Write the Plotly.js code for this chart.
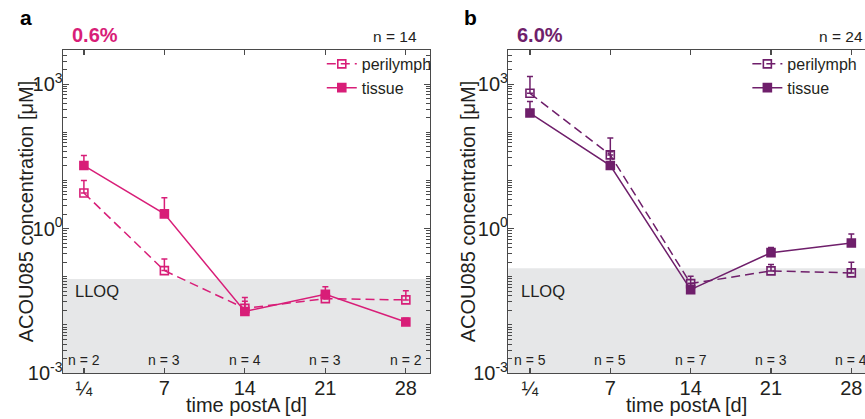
<!DOCTYPE html>
<html>
<head>
<meta charset="utf-8">
<script src="https://cdn.plot.ly/plotly-3.0.1.min.js"></script>
<style>html,body{margin:0;padding:0;background:#fff;}#chart{width:865px;height:419px;}</style>
</head>
<body>
<div id="chart"></div>
<script>
// ---- data ----
const categories = ['¼', '7', '14', '21', '28'];

// Panel a: 0.6 %
const a_perilymph = [5.5, 0.134, 0.022, 0.035, 0.033];
const a_perilymph_err = [4.5, 0.10, 0.015, 0.016, 0.018];
const a_tissue = [20.4, 2.02, 0.019, 0.043, 0.0115];
const a_tissue_err = [12.7, 2.35, 0.012, 0.019, 0.0023];
const a_n = ['n = 2', 'n = 3', 'n = 4', 'n = 3', 'n = 2'];
const a_total = 'n = 14';
const a_lloq = 0.09;

// Panel b: 6.0 %
const b_perilymph = [646, 33.9, 0.072, 0.132, 0.12];
const b_perilymph_err = [800, 42, 0.030, 0.048, 0.08];
const b_tissue = [251, 20.4, 0.054, 0.316, 0.50];
const b_tissue_err = [186, 19, 0.018, 0.09, 0.27];
const b_n = ['n = 5', 'n = 5', 'n = 7', 'n = 3', 'n = 4'];
const b_total = 'n = 24';
const b_lloq = 0.15;

// y tick labels (labelled decades only)
const yTickVals = [0.001, 1, 1000];
const yTickText = ['10<sup>-3</sup>', '10<sup>0</sup>', '10<sup>3</sup>'];

// ---- styles ----
const colA = '#d81e78';
const colB = '#6f1f6b';
const axisCol = '#4a4a4a';
const txtCol = '#231f20';
const FONT = 'Liberation Sans, Arial, sans-serif';
const Y_RANGE = [-3, 3.71];
const Y_DOMAIN = [0.1098, 0.8807];

function trace(y, err, name, color, open, xa, ya, legend) {
  return {
    x: categories, y: y, name: name, type: 'scatter', mode: 'lines+markers',
    xaxis: xa, yaxis: ya, legend: legend,
    line: {color: color, width: 1.5, dash: open ? '9px,5px' : 'solid'},
    marker: {symbol: open ? 'square-open' : 'square', size: 8, color: color,
             line: {color: color, width: 1.6}},
    error_y: {type: 'data', symmetric: false, array: err, arrayminus: err.map(() => 0),
              color: color, thickness: 1.5, width: 3}
  };
}
// empty helper traces so that the overlay axes (minor ticks / titles) are drawn
function helper(xa, ya) {
  return {x: [], y: [], type: 'scatter', mode: 'markers', xaxis: xa, yaxis: ya,
          showlegend: false, hoverinfo: 'skip'};
}

const data = [
  trace(a_perilymph, a_perilymph_err, 'perilymph', colA, true, 'x', 'y', 'legend'),
  trace(a_tissue, a_tissue_err, 'tissue', colA, false, 'x', 'y', 'legend'),
  trace(b_perilymph, b_perilymph_err, 'perilymph', colB, true, 'x2', 'y2', 'legend2'),
  trace(b_tissue, b_tissue_err, 'tissue', colB, false, 'x2', 'y2', 'legend2'),
  helper('x', 'y3'), helper('x2', 'y4'), helper('x3', 'y'), helper('x4', 'y2')
];

function xaxis(domain, range, anchor) {
  return {
    domain: domain, anchor: anchor, type: 'category', categoryarray: categories, range: range,
    showline: true, linecolor: axisCol, linewidth: 1.4, mirror: 'ticks',
    ticks: 'inside', ticklen: 5, tickcolor: axisCol, tickwidth: 1.2,
    showgrid: false, zeroline: false,
    tickfont: {family: FONT, size: 20, color: txtCol},
    ticklabelstandoff: -3
  };
}
// overlay axis carrying the x title (no tick labels) for tight placement
function xTitleAxis(over, domain, range, anchor) {
  return {
    overlaying: over, domain: domain, anchor: anchor, type: 'linear', range: range,
    showline: false, ticks: '', showticklabels: false, showgrid: false, zeroline: false,
    title: {text: 'time postA [d]', font: {family: FONT, size: 20, color: txtCol}, standoff: 25}
  };
}
function yaxis(anchor, mirror) {
  return {
    domain: Y_DOMAIN, anchor: anchor, type: 'log', range: Y_RANGE,
    showline: true, linecolor: axisCol, linewidth: 1.4, mirror: mirror,
    ticks: 'inside', ticklen: 6, tickcolor: axisCol, tickwidth: 1.2,
    tickmode: 'array', tickvals: yTickVals, ticktext: yTickText,
    showgrid: false, zeroline: false,
    tickfont: {family: FONT, size: 20, color: txtCol},
    ticklabelstandoff: -5
  };
}
// overlay log axis: minor ticks (1..9 per decade) + the y title
function yMinorAxis(over, anchor, mirror, standoff) {
  return {
    overlaying: over, anchor: anchor, type: 'log', range: Y_RANGE, side: 'left',
    showline: false, mirror: mirror,
    ticks: 'inside', ticklen: 4, tickcolor: axisCol, tickwidth: 1,
    tickmode: 'linear', tick0: 0, dtick: 'D1',
    showticklabels: false, showgrid: false, zeroline: false,
    title: {text: 'ACOU085 concentration [μM]', font: {family: FONT, size: 20, color: txtCol}, standoff: standoff}
  };
}

const annotations = [];
function addPanel(xa, ya, nLabels) {
  nLabels.forEach((t, i) => annotations.push({
    x: i, y: 0.04, xref: xa, yref: ya + ' domain', text: t, showarrow: false,
    xanchor: 'center', yanchor: 'middle', font: {family: FONT, size: 14, color: txtCol}
  }));
  annotations.push({x: -0.14, y: 0.255, xref: xa, yref: ya + ' domain', text: 'LLOQ', showarrow: false,
    xanchor: 'left', yanchor: 'middle', font: {family: FONT, size: 16.5, color: txtCol}});
}
addPanel('x', 'y', a_n);
addPanel('x2', 'y2', b_n);

const paperText = (x, y, text, size, color, bold, anchor) => ({
  x: x, y: y, xref: 'paper', yref: 'paper', text: bold ? '<b>' + text + '</b>' : text,
  showarrow: false, xanchor: anchor, yanchor: 'middle',
  font: {family: FONT, size: size, color: color}
});
annotations.push(paperText(0.0208, 0.959, 'a', 21, '#000', true, 'left'));
annotations.push(paperText(0.0809, 0.916, '0.6%', 20, colA, true, 'left'));
annotations.push(paperText(0.4844, 0.912, a_total, 15.5, txtCol, false, 'right'));
annotations.push(paperText(0.534, 0.959, 'b', 21, '#000', true, 'left'));
annotations.push(paperText(0.5954, 0.916, '6.0%', 20, colB, true, 'left'));
annotations.push(paperText(1.0, 0.912, b_total, 15.5, txtCol, false, 'right'));

const shapes = [
  {type: 'rect', xref: 'x domain', yref: 'y', x0: 0, x1: 1, y0: 0.001, y1: a_lloq,
   fillcolor: '#e6e7e8', line: {width: 0}, layer: 'below'},
  {type: 'rect', xref: 'x2 domain', yref: 'y2', x0: 0, x1: 1, y0: 0.001, y1: b_lloq,
   fillcolor: '#e6e7e8', line: {width: 0}, layer: 'below'}
];

const legendStyle = (x) => ({
  x: x, y: 0.888, xref: 'paper', yref: 'paper', xanchor: 'left', yanchor: 'top',
  bgcolor: 'rgba(0,0,0,0)', borderwidth: 0, itemwidth: 30, tracegroupgap: 0,
  font: {family: FONT, size: 16, color: txtCol}
});

const XA_DOM = [0.0728, 0.4971], XB_DOM = [0.5876, 1.0];
const XA_RANGE = [-0.26, 4.30], XB_RANGE = [-0.27, 4.17];

const layout = {
  width: 865, height: 419,
  margin: {l: 0, r: 0, t: 0, b: 0},
  paper_bgcolor: '#fff', plot_bgcolor: 'rgba(0,0,0,0)',
  showlegend: true,
  xaxis: xaxis(XA_DOM, XA_RANGE, 'y'),
  yaxis: yaxis('x', 'ticks'),
  xaxis2: xaxis(XB_DOM, XB_RANGE, 'y2'),
  yaxis2: yaxis('x2', false),
  yaxis3: yMinorAxis('y', 'x', 'ticks', 22),
  yaxis4: yMinorAxis('y2', 'x2', false, 26),
  xaxis3: xTitleAxis('x', XA_DOM, XA_RANGE, 'y'),
  xaxis4: xTitleAxis('x2', XB_DOM, XB_RANGE, 'y2'),
  legend: legendStyle(0.372),
  legend2: legendStyle(0.864),
  annotations: annotations,
  shapes: shapes,
  font: {family: FONT, color: txtCol}
};

Plotly.newPlot('chart', data, layout, {displayModeBar: false, staticPlot: true});
</script>
</body>
</html>
